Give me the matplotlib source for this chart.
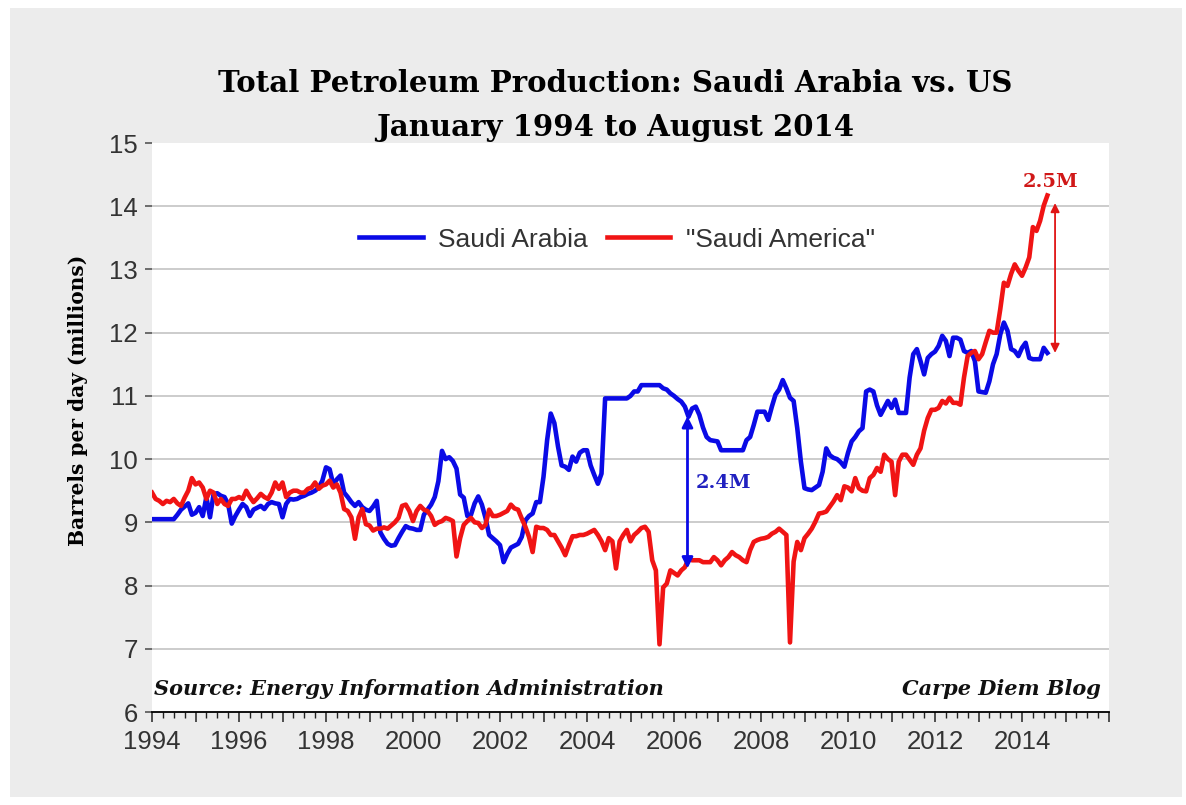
import numpy as np
import matplotlib.pyplot as plt
from matplotlib.patches import Rectangle
from matplotlib.ticker import MultipleLocator, FuncFormatter

# monthly total petroleum production, million barrels/day, Jan 1994 - Aug 2014
saudi = [
    9.05, 9.05, 9.05, 9.05, 9.05, 9.05, 9.05, 9.12, 9.2, 9.25, 9.3, 9.12,      # 1994
    9.15, 9.24, 9.1, 9.4, 9.08, 9.45, 9.46, 9.42, 9.4, 9.29, 8.98, 9.1,        # 1995
    9.2, 9.29, 9.24, 9.1, 9.2, 9.23, 9.26, 9.21, 9.29, 9.32, 9.3, 9.29,        # 1996
    9.08, 9.29, 9.37, 9.36, 9.37, 9.4, 9.42, 9.45, 9.47, 9.5, 9.55, 9.66,      # 1997
    9.87, 9.84, 9.6, 9.68, 9.74, 9.47, 9.4, 9.32, 9.26, 9.32, 9.24, 9.2,       # 1998
    9.18, 9.25, 9.34, 8.84, 8.74, 8.66, 8.63, 8.64, 8.75, 8.85, 8.94, 8.91,    # 1999
    8.9, 8.88, 8.88, 9.12, 9.2, 9.28, 9.4, 9.65, 10.13, 10.0, 10.03, 9.97,     # 2000
    9.85, 9.44, 9.39, 9.1, 9.12, 9.3, 9.41, 9.28, 9.07, 8.8, 8.75, 8.7,        # 2001
    8.64, 8.37, 8.5, 8.6, 8.63, 8.66, 8.77, 9.03, 9.1, 9.14, 9.32, 9.32,       # 2002
    9.72, 10.3, 10.72, 10.57, 10.2, 9.9, 9.88, 9.83, 10.04, 9.96, 10.1, 10.14, # 2003
    10.14, 9.9, 9.75, 9.61, 9.77, 10.96, 10.96, 10.96, 10.96, 10.96, 10.96, 10.96,  # 2004
    11.0, 11.07, 11.07, 11.17, 11.17, 11.17, 11.17, 11.17, 11.17, 11.12, 11.1, 11.04,  # 2005
    11.0, 10.95, 10.91, 10.83, 10.67, 10.8, 10.83, 10.7, 10.5, 10.35, 10.3, 10.29,     # 2006
    10.28, 10.14, 10.14, 10.14, 10.14, 10.14, 10.14, 10.14, 10.3, 10.35, 10.54, 10.75, # 2007
    10.75, 10.75, 10.62, 10.83, 11.02, 11.1, 11.25, 11.12, 10.97, 10.92, 10.49, 9.96,  # 2008
    9.54, 9.52, 9.51, 9.55, 9.59, 9.8, 10.17, 10.06, 10.02, 10.0, 9.95, 9.88,          # 2009
    10.1, 10.28, 10.35, 10.44, 10.49, 11.07, 11.1, 11.07, 10.85, 10.7, 10.81, 10.92,   # 2010
    10.81, 10.94, 10.73, 10.73, 10.73, 11.29, 11.66, 11.74, 11.55, 11.34, 11.6, 11.66, # 2011
    11.7, 11.79, 11.95, 11.87, 11.63, 11.92, 11.92, 11.89, 11.71, 11.68, 11.71, 11.55, # 2012
    11.07, 11.06, 11.05, 11.23, 11.5, 11.66, 11.97, 12.16, 12.03, 11.74, 11.71, 11.63, # 2013
    11.76, 11.84, 11.6, 11.58, 11.58, 11.58, 11.76, 11.68,                             # 2014
]

usa = [
    9.47, 9.37, 9.34, 9.29, 9.34, 9.32, 9.37, 9.3, 9.26, 9.39, 9.5, 9.7,       # 1994
    9.6, 9.63, 9.55, 9.37, 9.5, 9.47, 9.29, 9.37, 9.29, 9.26, 9.37, 9.37,      # 1995
    9.4, 9.37, 9.5, 9.4, 9.32, 9.38, 9.45, 9.4, 9.37, 9.47, 9.63, 9.53,        # 1996
    9.63, 9.4, 9.47, 9.5, 9.5, 9.47, 9.47, 9.53, 9.55, 9.63, 9.53, 9.58,       # 1997
    9.6, 9.66, 9.55, 9.6, 9.47, 9.21, 9.18, 9.08, 8.74, 9.08, 9.21, 8.97,      # 1998
    8.95, 8.87, 8.9, 8.9, 8.92, 8.9, 8.95, 9.0, 9.07, 9.26, 9.28, 9.18,        # 1999
    9.02, 9.18, 9.26, 9.2, 9.18, 9.1, 8.96, 9.0, 9.02, 9.07, 9.05, 9.02,       # 2000
    8.46, 8.75, 8.96, 9.02, 9.07, 9.0, 8.99, 8.91, 8.96, 9.2, 9.1, 9.1,        # 2001
    9.12, 9.15, 9.18, 9.28, 9.22, 9.2, 9.06, 8.93, 8.77, 8.53, 8.93, 8.91,     # 2002
    8.91, 8.88, 8.8, 8.8, 8.7, 8.6, 8.48, 8.64, 8.78, 8.78, 8.8, 8.8,          # 2003
    8.82, 8.85, 8.88, 8.8, 8.7, 8.56, 8.75, 8.7, 8.27, 8.7, 8.8, 8.88,         # 2004
    8.7, 8.8, 8.85, 8.91, 8.93, 8.85, 8.4, 8.24, 7.07, 7.97, 8.03, 8.24,       # 2005
    8.2, 8.16, 8.24, 8.29, 8.42, 8.4, 8.4, 8.4, 8.37, 8.37, 8.37, 8.45,        # 2006
    8.4, 8.32, 8.4, 8.45, 8.53, 8.48, 8.45, 8.4, 8.37, 8.56, 8.69, 8.72,       # 2007
    8.74, 8.75, 8.77, 8.82, 8.85, 8.9, 8.85, 8.8, 7.1, 8.38, 8.69, 8.56,       # 2008
    8.75, 8.82, 8.9, 9.01, 9.14, 9.15, 9.17, 9.25, 9.33, 9.43, 9.35, 9.57,     # 2009
    9.55, 9.49, 9.7, 9.54, 9.5, 9.49, 9.7, 9.75, 9.86, 9.8, 10.07, 10.0,       # 2010
    9.96, 9.43, 9.96, 10.07, 10.07, 9.99, 9.91, 10.07, 10.17, 10.45, 10.65, 10.78,     # 2011
    10.78, 10.81, 10.92, 10.88, 10.97, 10.89, 10.89, 10.86, 11.29, 11.63, 11.68, 11.71, # 2012
    11.58, 11.66, 11.85, 12.03, 12.0, 12.0, 12.37, 12.79, 12.74, 12.93, 13.08, 12.98,  # 2013
    12.9, 13.03, 13.19, 13.67, 13.61, 13.77, 14.01, 14.17,                             # 2014
]

start_year = 1994
year_ticks = list(range(1994, 2016, 2))
gap_saudi = (8.27, 10.68)   # "2.4M" arrow ends
gap_us = (11.68, 14.05)     # "2.5M" arrow ends

t = start_year + np.arange(len(saudi)) / 12.0

fig = plt.figure(figsize=(11.86, 8.05), dpi=100)
fig.patch.set_facecolor('white')
fig.patches.append(Rectangle((10/1186, 8/805), 1172/1186, 789/805,
                             transform=fig.transFigure, facecolor='#ececec',
                             edgecolor='none', zorder=-10))

ax = fig.add_axes([152/1186, 1-712/805, 957/1186, 569/805])
ax.set_facecolor('white')

ax.plot(t, saudi, color='#0a0ae6', lw=3.3, label='Saudi Arabia', zorder=3)
ax.plot(t, usa, color='#f01414', lw=3.3, label='"Saudi America"', zorder=3)

ax.set_xlim(1994, 2016)
ax.set_ylim(6, 15)

for s in ['top', 'right', 'left']:
    ax.spines[s].set_visible(False)
ax.spines['bottom'].set_color('black')
ax.spines['bottom'].set_linewidth(1.3)

for v in range(7, 15):
    ax.axhline(v, color='#c4c4c4', lw=1.2, zorder=1)

ax.xaxis.set_major_locator(MultipleLocator(1))
ax.xaxis.set_minor_locator(MultipleLocator(0.25))
ax.xaxis.set_major_formatter(FuncFormatter(
    lambda x, p: str(int(round(x))) if int(round(x)) in year_ticks else ''))
ax.tick_params(axis='x', which='major', length=7, width=1.1, direction='out',
               color='#222222', pad=6, labelcolor='#333333')
ax.tick_params(axis='x', which='minor', length=4.5, width=1.0, direction='out',
               color='#222222')
ax.set_yticks(range(6, 16))
ax.tick_params(axis='y', length=5, width=1.2, color='#555555', pad=5,
               labelcolor='#333333')
for lab in ax.get_xticklabels() + ax.get_yticklabels():
    lab.set_fontfamily('Liberation Sans')
    lab.set_fontsize(18.5)

ax.set_ylabel('Barrels per day (millions)', family='DejaVu Serif',
              fontweight='bold', fontsize=14.5)
ax.yaxis.set_label_coords(-64/957, (712-400)/569)

fig.text(615/1186, 1-84/805, 'Total Petroleum Production: Saudi Arabia vs. US',
         ha='center', va='center', family='DejaVu Serif', fontweight='bold',
         fontsize=21)
fig.text(615/1186, 1-127/805, 'January 1994 to August 2014',
         ha='center', va='center', family='DejaVu Serif', fontweight='bold',
         fontsize=21)

leg = ax.legend(loc='center', bbox_to_anchor=(0.486, 13.47), ncol=2,
                bbox_transform=ax.get_yaxis_transform(), frameon=False,
                prop={'family': 'Liberation Sans', 'size': 19},
                handlelength=2.4, handletextpad=0.6, columnspacing=0.7)
for txt in leg.get_texts():
    txt.set_color('#333333')

ax.text(1994.05, 6.36, 'Source: Energy Information Administration',
        family='DejaVu Serif', fontweight='bold', style='italic', fontsize=15,
        ha='left', va='center', color='#111111')
ax.text(2015.82, 6.36, 'Carpe Diem Blog', family='DejaVu Serif',
        fontweight='bold', style='italic', fontsize=15, ha='right',
        va='center', color='#111111')

# gap arrows
ax.annotate('', xy=(2006.31, gap_saudi[1]), xytext=(2006.31, gap_saudi[0]),
            arrowprops=dict(arrowstyle='<|-|>', color='#0a0ae6', lw=2,
                            mutation_scale=16, shrinkA=0, shrinkB=0), zorder=4)
ax.text(2006.5, 9.62, '2.4M', color='#2020c0', family='DejaVu Serif',
        fontweight='bold', fontsize=14, ha='left', va='center')

ax.annotate('', xy=(2014.76, gap_us[1]), xytext=(2014.76, gap_us[0]),
            arrowprops=dict(arrowstyle='<|-|>', color='#e01414', lw=1.3,
                            mutation_scale=13, shrinkA=0, shrinkB=0), zorder=4)
ax.text(2014.66, 14.38, '2.5M', color='#d01818', family='DejaVu Serif',
        fontweight='bold', fontsize=14, ha='center', va='center')

fig.savefig('out.png', dpi=100)
